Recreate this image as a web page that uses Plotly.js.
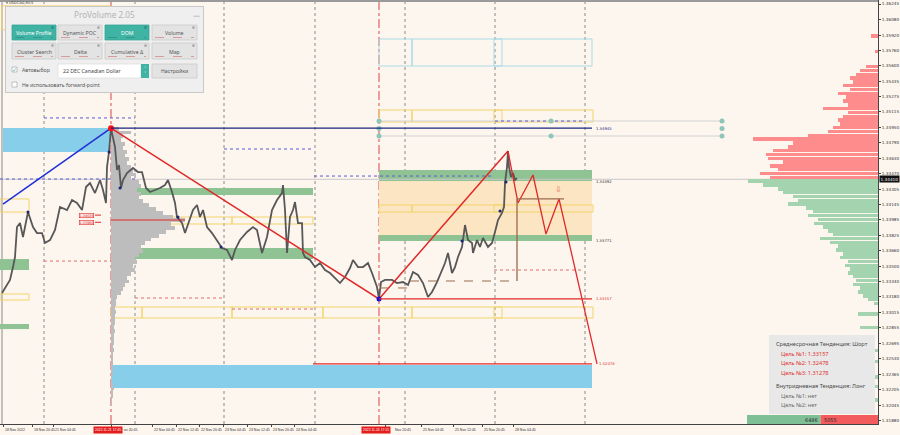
<!DOCTYPE html>
<html><head><meta charset="utf-8">
<script src="https://cdn.plot.ly/plotly-3.0.1.min.js"></script>
<style>html,body{margin:0;padding:0;background:#fdf6ef;} #chart{width:900px;height:435px;}</style>
</head><body><div id="chart"></div>
<script>
// ---------------- DATA ----------------
// x axis: bar index of the chart (M15 chart, compressed time scale)
const xTickPos  = [3,32,53,111,152,176,199,223,247,271,294,385,421,453,482,513];
const xTickText = ["18 Nov 2022","18 Nov 20:45","21 Nov 04:45","ov 20:45","22 Nov 04:45","22 Nov 12:45","22 Nov 20:45","23 Nov 04:45","23 Nov 12:45","23 Nov 20:45","24 Nov 04:45","Nov 20:45","25 Nov 04:45","25 Nov 12:45","25 Nov 20:45","28 Nov 04:45"];
const xLabelPos = [3,32,53,122,152,176,199,223,247,271,294,393,421,453,482,513];
const cursorBars  = [111,379];
const cursorTexts = ["2022.11.21 17:45","2022.11.24 17:15"];
const cursorLabelBars = [93,361];
const daySeparators = [44,135,224,315,405,495,585];

const yTickVals = [1.36245,1.36080,1.35920,1.35760,1.35600,1.35435,1.35275,1.35115,1.34950,1.34790,1.34630,1.34470,1.34305,1.34145,1.33985,1.33825,1.33660,1.33500,1.33340,1.33180,1.33015,1.32855,1.32695,1.32530,1.32365,1.32205,1.32045,1.31880];
const currentPrice = 1.34410;

const priceBar = [2,10,13,15,17,20,23,28,33,37,42,45,50,55,60,67,72,77,82,86,90,95,100,103,106,107,109,111,112,115,117,119,121,123,127,130,133,138,142,146,150,155,160,165,168,172,175,177,182,185,188,193,197,200,203,207,212,217,222,227,232,235,240,247,253,257,262,267,272,277,282,283,285,287,290,293,295,298,302,303,305,310,315,320,325,330,337,340,345,350,353,358,363,368,372,375,377,379,381,385,392,397,403,408,413,418,423,428,432,437,442,445,448,452,455,458,462,463,465,468,472,473,477,480,483,488,492,495,498,502,504,505,507,508,509,511,513,515,517];
const priceClose = [1.33219,1.33356,1.33491,1.33596,1.33910,1.33952,1.33806,1.34067,1.33910,1.33847,1.33847,1.33743,1.33774,1.33879,1.34120,1.34088,1.34193,1.34162,1.34088,1.34329,1.34371,1.34266,1.34402,1.34298,1.34162,1.34538,1.34696,1.34945,1.34894,1.34748,1.34507,1.34559,1.34319,1.34402,1.34476,1.34507,1.34528,1.34486,1.34486,1.34319,1.34277,1.34298,1.34319,1.34350,1.34402,1.34277,1.34162,1.34015,1.33952,1.33847,1.33931,1.34088,1.34141,1.34015,1.34088,1.33910,1.33847,1.33774,1.33690,1.33670,1.33565,1.33670,1.33774,1.33858,1.33910,1.33879,1.33638,1.33806,1.34088,1.34193,1.34266,1.34350,1.34088,1.33638,1.34015,1.34088,1.34172,1.33952,1.33952,1.33638,1.33596,1.33565,1.33491,1.33533,1.33460,1.33429,1.33356,1.33324,1.33387,1.33481,1.33565,1.33491,1.33491,1.33533,1.33429,1.33334,1.33282,1.33157,1.33334,1.33356,1.33356,1.33324,1.33334,1.33303,1.33439,1.33408,1.33324,1.33178,1.33230,1.33334,1.33460,1.33533,1.33638,1.33429,1.33491,1.33596,1.33701,1.33774,1.33931,1.33774,1.33743,1.33638,1.33774,1.33701,1.33795,1.33701,1.33743,1.33858,1.33984,1.34057,1.34120,1.34371,1.34538,1.34706,1.34538,1.34434,1.34476,1.34402,1.34423];

// Volume profile of the swing (anchored at bar 111)
const vpAnchorBar = 111;
const vpLevels = [1.3494,1.3490,1.3486,1.3482,1.3478,1.3474,1.3470,1.3466,1.3462,1.3458,1.3454,1.3450,1.3446,1.3442,1.3438,1.3434,1.3430,1.3426,1.3422,1.3418,1.3414,1.3410,1.3406,1.3402,1.3398,1.3394,1.3390,1.3386,1.3382,1.3378,1.3374,1.3370,1.3366,1.3362,1.3358,1.3354,1.3350,1.3346,1.3342,1.3338,1.3334,1.3330,1.3326,1.3322,1.3318,1.3314,1.3310,1.3306,1.3302,1.3298,1.3294,1.3290,1.3286,1.3282,1.3278,1.3274,1.3270,1.3266,1.3262,1.3258,1.3254,1.3250,1.3246,1.3242,1.3238,1.3234,1.3230,1.3226,1.3222,1.3218,1.3214,1.3210,1.3206];
const vpVolume = [8,20,12,10,14,12,16,14,18,16,20,22,25,20,28,30,26,30,28,32,38,45,52,62,74,60,64,55,48,40,34,30,32,28,24,26,22,24,20,16,18,14,12,10,6,5,5,4,5,4,4,4,3,4,3,3,3,2,3,2,2,2,2,2,2,1,1,2,3,2,2,1,1];
const vpPOC = 1.33984;

// Market (right side) profile: sell side above price, buy side below
const askLevels = [1.3443,1.3447,1.3451,1.3455,1.3459,1.3463,1.3467,1.3471,1.3475,1.3479,1.3483,1.3487,1.3491,1.3495,1.3499,1.3503,1.3507,1.3511,1.3515,1.3519,1.3523,1.3527,1.3531,1.3535,1.3539,1.3543,1.3547,1.3551,1.3555,1.3559,1.3575,1.3591];
const askVolume = [108,118,100,108,95,110,112,105,90,85,125,70,50,45,38,40,35,30,55,30,35,32,40,28,35,25,28,22,18,12,3,7];
const bidLevels = [1.3439,1.3435,1.3431,1.3427,1.3423,1.3419,1.3415,1.3411,1.3407,1.3403,1.3399,1.3395,1.3391,1.3387,1.3383,1.3379,1.3375,1.3371,1.3367,1.3363,1.3359,1.3355,1.3351,1.3347,1.3343,1.3339,1.3335,1.3331,1.3327,1.3323,1.3319,1.3315,1.3311,1.3300,1.3286,1.3262,1.3250,1.3234,1.3224,1.3210];
const bidVolume = [130,115,100,95,85,80,90,72,65,70,60,64,55,50,45,58,48,40,42,35,38,30,33,28,30,25,22,25,18,20,15,10,4,20,18,10,15,12,8,6];
const buyTotal = 6486, sellTotal = 5055;

// Trend structure
const upTrendBars = [3,111], upTrendPrices = [1.34151,1.34945];
const downTrendBars = [111,379,508], downTrendPrices = [1.34945,1.33157,1.34706];
const forecastBars = [508,518,533,546,559,597], forecastPrices = [1.34706,1.34162,1.34455,1.33837,1.34204,1.32478];
const pivotBars = [28,109,120,178,221,462,500,506];
const pivotPrices = [1.34067,1.34696,1.34319,1.34015,1.33701,1.33764,1.34078,1.34382];
const nodeBars = [379,379,379,551,551,722,722,722];
const nodePrices = [1.35020,1.34942,1.34863,1.35020,1.34863,1.35020,1.34942,1.34863];

// Zones [bar0, bar1, priceLow, priceHigh]
const greenZones = [[0,29,1.33460,1.33575],[0,29,1.32842,1.32895],[111,313,1.34245,1.34319],[111,313,1.33575,1.33690],[379,592,1.34392,1.34507],[379,592,1.33764,1.33827]];
const blueZones = [[3,110,1.34696,1.34947],[111,592,1.32225,1.32466]];
const orangeZones = [[379,592,1.33816,1.34392]];
const yellowBoxes = [[0,29,1.34067,1.34204],[0,29,1.33146,1.33209],[170,232,1.33942,1.34015],[232,313,1.33942,1.34015],
  [111,142,1.32958,1.33073],[142,232,1.32958,1.33073],[232,323,1.32958,1.33073],[323,412,1.32958,1.33073],[412,502,1.32958,1.33073],[494,593,1.32958,1.33073],
  [379,412,1.34067,1.34141],[412,502,1.34067,1.34141],[494,593,1.34067,1.34141],
  [379,412,1.35010,1.35135],[412,502,1.35010,1.35135],[494,593,1.35010,1.35135]];
const cyanBoxes = [[379,412,1.35596,1.35879],[412,502,1.35596,1.35879],[494,592,1.35596,1.35879]];
// Levels [bar0, bar1, price]
const navyLevels = [[111,592,1.34945]];
const redLevels = [[379,592,1.33157],[313,592,1.32478]];
const grayLevels = [[379,722,1.35020],[379,722,1.34863]];
const blueDotted = [[44,135,1.35052],[224,314,1.34727],[314,494,1.34444],[0,135,1.34413],[495,585,1.35020]];
const redDotted = [[44,111,1.33554],[135,224,1.33167],[232,315,1.33052],[494,584,1.33460]];
const levelLabels = [["1.34945",1.34945,"#1a237e",594],["1.34392",1.34392,"#333",594],["1.33771",1.33771,"#333",594],["1.33157",1.33157,"#e03030",594],["1.32478",1.32478,"#e03030",597]];

// ---------------- LAYOUT HELPERS ----------------
const W = 878, H = 424;
const px = x => x / W;
const py = y => 1 - y / H;
const FONT = "DejaVu Sans";
const shapes = [];
const annotations = [];

function dataRect(z, fill, line, lw, layer, dash) {
  shapes.push({type:'rect', xref:'x', yref:'y', x0:z[0], x1:z[1], y0:z[2], y1:z[3],
    fillcolor: fill || 'rgba(0,0,0,0)', line:{color: line || 'rgba(0,0,0,0)', width: lw || 0, dash: dash || 'solid'}, layer: layer || 'below'});
}
function dataHLine(l, color, w, dash, layer) {
  shapes.push({type:'line', xref:'x', yref:'y', x0:l[0], x1:l[1], y0:l[2], y1:l[2], line:{color, width:w, dash: dash||'solid'}, layer: layer||'below'});
}
function pRect(x0,y0,x1,y1,fill,line,lw) {
  shapes.push({type:'rect', xref:'paper', yref:'paper', x0:px(x0), x1:px(x1), y0:py(y1), y1:py(y0),
    fillcolor: fill, line:{color: line || 'rgba(0,0,0,0)', width: lw || 0}, layer:'above'});
}
function pText(x,y,text,size,color,anchor,fam,extra) {
  annotations.push(Object.assign({xref:'paper', yref:'paper', x:px(x), y:py(y), text, showarrow:false,
    xanchor: anchor||'left', yanchor:'middle', font:{family: fam||FONT, size, color}}, extra||{}));
}

// ---- zones ----
orangeZones.forEach(z => dataRect(z, '#fce5c2'));
blueZones.forEach(z => dataRect(z, '#87ceeb'));
greenZones.forEach(z => dataRect(z, '#8fc393'));
yellowBoxes.forEach(z => dataRect(z, null, '#f2d46a', 1));
cyanBoxes.forEach(z => dataRect(z, null, '#a9dbe6', 1));
// top-left yellow frame (partly behind panel)
dataRect([2,111,1.35975,1.36225], null, '#f2d46a', 1);

// ---- vertical separators ----
daySeparators.forEach(b => shapes.push({type:'line', xref:'x', yref:'paper', x0:b, x1:b, y0:0, y1:1, line:{color:'#8a8a8a', width:1, dash:'dot'}, layer:'below'}));
cursorBars.forEach(b => shapes.push({type:'line', xref:'x', yref:'paper', x0:b, x1:b, y0:0, y1:1, line:{color:'#d44', width:1, dash:'dashdot'}, layer:'below'}));

// ---- horizontal levels ----
dataHLine([0,878,currentPrice], '#c9c9c9', 1);
grayLevels.forEach(l => dataHLine(l, '#d2d2d2', 1));
blueDotted.forEach(l => dataHLine(l, '#5b5bd6', 1, 'dot'));
redDotted.forEach(l => dataHLine(l, '#e26a6a', 1, 'dot'));
navyLevels.forEach(l => dataHLine(l, '#1a237e', 1.3, 'solid', 'above'));
redLevels.forEach(l => dataHLine(l, '#e02828', 1.3, 'solid', 'above'));
dataHLine([vpAnchorBar,185,vpPOC], '#e02828', 1.2, 'solid', 'above');
// brown measuring lines
dataHLine([517,564,1.34204], '#9a6a4c', 1.3, 'solid', 'above');
shapes.push({type:'line', xref:'x', yref:'y', x0:517, x1:517, y0:1.34204, y1:1.33345, line:{color:'#9a6a4c', width:1.3}, layer:'above'});
dataHLine([410,517,1.33345], '#9a6a4c', 1, 'dash', 'above');
dataHLine([380,412,1.33272], '#9a6a4c', 1, 'dash', 'above');
// small level markers near the profile
dataHLine([95,101,1.34035], '#e02828', 1, 'solid', 'above');
dataHLine([95,101,1.33960], '#e02828', 1, 'solid', 'above');
// frame lines
shapes.push({type:'line', xref:'paper', yref:'paper', x0:0, x1:1, y0:py(1), y1:py(1), line:{color:'#9a9a9a', width:2}, layer:'above'});
shapes.push({type:'line', xref:'paper', yref:'paper', x0:px(2), x1:px(2), y0:0, y1:1, line:{color:'#8a8a8a', width:1}, layer:'below'});

// ---- bottom delta bar ----
const totalVol = buyTotal + sellTotal;
const splitX = 747 + 131 * buyTotal / totalVol;
pRect(747,415,splitX,424,'#7fbf95');
pRect(splitX,415,878,424,'#f25c5c');
pText(splitX-1,419.5,String(buyTotal),5,'#2a2a2a','right');
pText(splitX+1,419.5,String(sellTotal),5,'#2a2a2a','left');

// ---- info box ----
pRect(769,335,875,414,'#e8e8e8');
pText(774,344,'Среднесрочная Тенденция: Шорт',5.6,'#4a4a4a','left','Noto Sans');
pText(779,353.5,'Цель №1: 1.33157',5.6,'#e03030','left','Noto Sans');
pText(779,363,'Цель №2: 1.32478',5.6,'#e03030','left','Noto Sans');
pText(779,372.5,'Цель №3: 1.31278',5.6,'#e03030','left','Noto Sans');
pText(774,386,'Внутридневная Тенденция: Лонг',5.6,'#4a4a4a','left','Noto Sans');
pText(779,396,'Цель №1: нет',5.6,'#6a6a6a','left','Noto Sans');
pText(779,405,'Цель №2: нет',5.6,'#6a6a6a','left','Noto Sans');

// ---- ProVolume panel ----
pRect(5,6,204,93,'#c8c8c8');
pRect(6,7,203,92,'#efefef');
pText(104,14.5,'ProVolume 2.05',8.2,'#b3b3b3','center','Noto Sans');
pText(196,16,'—',7,'#8a8a8a','center');
const buttons = [
  ['Volume Profile',12,56,25,40,true],['Dynamic POC',58,102,25,40,false],['DOM',105,149,25,40,true],['Volume',152,197,25,40,false],
  ['Cluster Search',12,56,43,59,false],['Delta',58,102,43,59,false],['Cumulative Δ',105,149,43,59,false],['Map',152,197,43,59,false]];
buttons.forEach(b => {
  pRect(b[1],b[3],b[2],b[4], b[5] ? '#3fb3a4' : '#e3e3e3', b[5] ? '#3aa596' : '#cacaca', 0.8);
  pText((b[1]+b[2])/2,(b[3]+b[4])/2+0.5,b[0],5.2,b[5] ? '#ffffff' : '#555555','center','Noto Sans');
  shapes.push({type:'circle', xref:'paper', yref:'paper', x0:px(b[2]-5), x1:px(b[2]-2), y0:py(b[3]+4), y1:py(b[3]+1), fillcolor: b[5]?'#2f8f83':'#b0b0b0', line:{width:0}, layer:'above'});
  shapes.push({type:'line', xref:'paper', yref:'paper', x0:px(b[1]+3), x1:px(b[2]-3), y0:py(b[4]-2.5), y1:py(b[4]-2.5), line:{color: b[5]?'#2f8f83':'#d28a8a', width:0.8, dash:'dash'}, layer:'above'});
});
pRect(12,67,17,72,'#ffffff','#9a9a9a',0.6);
pText(14.5,69,'✓',6,'#3fb3a4','center');
pText(19.5,70,'Автовыбор',5.2,'#555','left','Noto Sans');
pRect(58,64,141,78,'#ffffff','#d6d6d6',0.6);
pText(61,71,'22 DEC Canadian Dollar',5.2,'#444','left','Noto Sans');
pRect(141,64,149,78,'#3fb3a4');
pText(145,68.5,'˄',4.5,'#fff','center');
pText(145,73.5,'˅',4.5,'#fff','center');
pRect(152,64,197,78,'#e3e3e3','#cacaca',0.8);
pText(174.5,71,'Настройки',5.2,'#555','center','Noto Sans');
pRect(12,82,17,87,'#ffffff','#9a9a9a',0.6);
pText(19.5,84.5,'Не использовать forward-point',5.2,'#555','left','Noto Sans');
pText(4,2.6,'▾ USDCAD,M15',3.6,'#333','left');

// ---- level labels ----
levelLabels.forEach(l => annotations.push({xref:'x', yref:'y', x:l[3], y:l[1], text:l[0], showarrow:false, xanchor:'left', yanchor:'middle', font:{family:FONT, size:3.8, color:l[2]}}));
annotations.push({xref:'x', yref:'y', x:86, y:1.34035, text:'1.34035', showarrow:false, xanchor:'center', yanchor:'middle', font:{family:FONT,size:3.4,color:'#e02828'}, bgcolor:'#fdecec', bordercolor:'#e02828', borderwidth:0.6, borderpad:0});
annotations.push({xref:'x', yref:'y', x:86, y:1.33960, text:'1.33960', showarrow:false, xanchor:'center', yanchor:'middle', font:{family:FONT,size:3.4,color:'#e02828'}, bgcolor:'#fdecec', bordercolor:'#e02828', borderwidth:0.6, borderpad:0});
annotations.push({xref:'x', yref:'y', x:558, y:1.34300, text:'⇩', showarrow:false, xanchor:'center', yanchor:'middle', font:{family:FONT,size:8,color:'#e06a50'}});
// current price tag
annotations.push({xref:'paper', yref:'y', x:px(879), y:currentPrice, text:currentPrice.toFixed(5), showarrow:false, xanchor:'left', yanchor:'middle', font:{family:FONT,size:4.2,color:'#ffffff'}, bgcolor:'#111111', borderpad:0.6});

// ---- x axis labels ----
xTickText.forEach((t,i) => annotations.push({xref:'x', yref:'paper', x:xLabelPos[i], y:py(429.5), text:t, showarrow:false, xanchor:'left', yanchor:'middle', font:{family:'Liberation Sans',size:3.5,color:'#333'}}));
cursorTexts.forEach((t,i) => annotations.push({xref:'x', yref:'paper', x:cursorLabelBars[i], y:py(429.5), text:t, showarrow:false, xanchor:'left', yanchor:'middle', font:{family:'Liberation Sans',size:3.4,color:'#ffffff'}, bgcolor:'#e41b1b', borderpad:1}));

// ---------------- TRACES ----------------
const traces = [
  {type:'bar', orientation:'h', y:vpLevels, x:vpVolume, base:vpAnchorBar, width:0.0004, marker:{color:'#bdbdbd', line:{width:0}}, hoverinfo:'skip'},
  {type:'bar', orientation:'h', y:askLevels, x:askVolume.map(v => -v), base:878, width:0.00036, marker:{color:'#ff8c8c', line:{width:0}}, hoverinfo:'skip'},
  {type:'bar', orientation:'h', y:bidLevels, x:bidVolume.map(v => -v), base:878, width:0.00036, marker:{color:'#a4d3b0', line:{width:0}}, hoverinfo:'skip'},
  {type:'scatter', mode:'lines', x:priceBar, y:priceClose, line:{color:'#575757', width:1.8}, hoverinfo:'skip'},
  {type:'scatter', mode:'lines', x:upTrendBars, y:upTrendPrices, line:{color:'#1f2fd8', width:1.5}, hoverinfo:'skip'},
  {type:'scatter', mode:'lines', x:downTrendBars, y:downTrendPrices, line:{color:'#e02828', width:1.5}, hoverinfo:'skip'},
  {type:'scatter', mode:'lines', x:forecastBars, y:forecastPrices, line:{color:'#e02828', width:1.3}, hoverinfo:'skip'},
  {type:'scatter', mode:'markers', x:nodeBars, y:nodePrices, marker:{color:'#8ec6ba', size:5}, hoverinfo:'skip'},
  {type:'scatter', mode:'markers', x:pivotBars, y:pivotPrices, marker:{color:'#1a237e', size:3}, hoverinfo:'skip'},
  {type:'scatter', mode:'markers', x:[downTrendBars[0]], y:[downTrendPrices[0]], marker:{color:'#ff1010', size:6}, hoverinfo:'skip'},
  {type:'scatter', mode:'markers', x:[downTrendBars[1]], y:[downTrendPrices[1]], marker:{color:'#1010e0', size:5}, hoverinfo:'skip'}
];

const layout = {
  width:900, height:435, autosize:false,
  margin:{l:0, r:22, t:0, b:11, pad:0},
  paper_bgcolor:'#fdf6ef', plot_bgcolor:'#fdf6ef',
  showlegend:false, barmode:'overlay', bargap:0,
  xaxis:{range:[0,878], showgrid:false, zeroline:false, showline:true, linecolor:'#444', linewidth:1,
         ticks:'outside', ticklen:2, tickcolor:'#444', tickvals:xTickPos, showticklabels:false, fixedrange:true},
  yaxis:{range:[1.31848,1.36287], side:'right', showgrid:false, zeroline:false, showline:true, linecolor:'#444', linewidth:1,
         ticks:'outside', ticklen:2, tickcolor:'#444', tickvals:yTickVals, ticktext:yTickVals.map(v => v.toFixed(5)),
         tickfont:{family:FONT, size:4.2, color:'#333'}, fixedrange:true},
  shapes, annotations
};
Plotly.newPlot('chart', traces, layout, {staticPlot:true, displayModeBar:false});
</script></body></html>
